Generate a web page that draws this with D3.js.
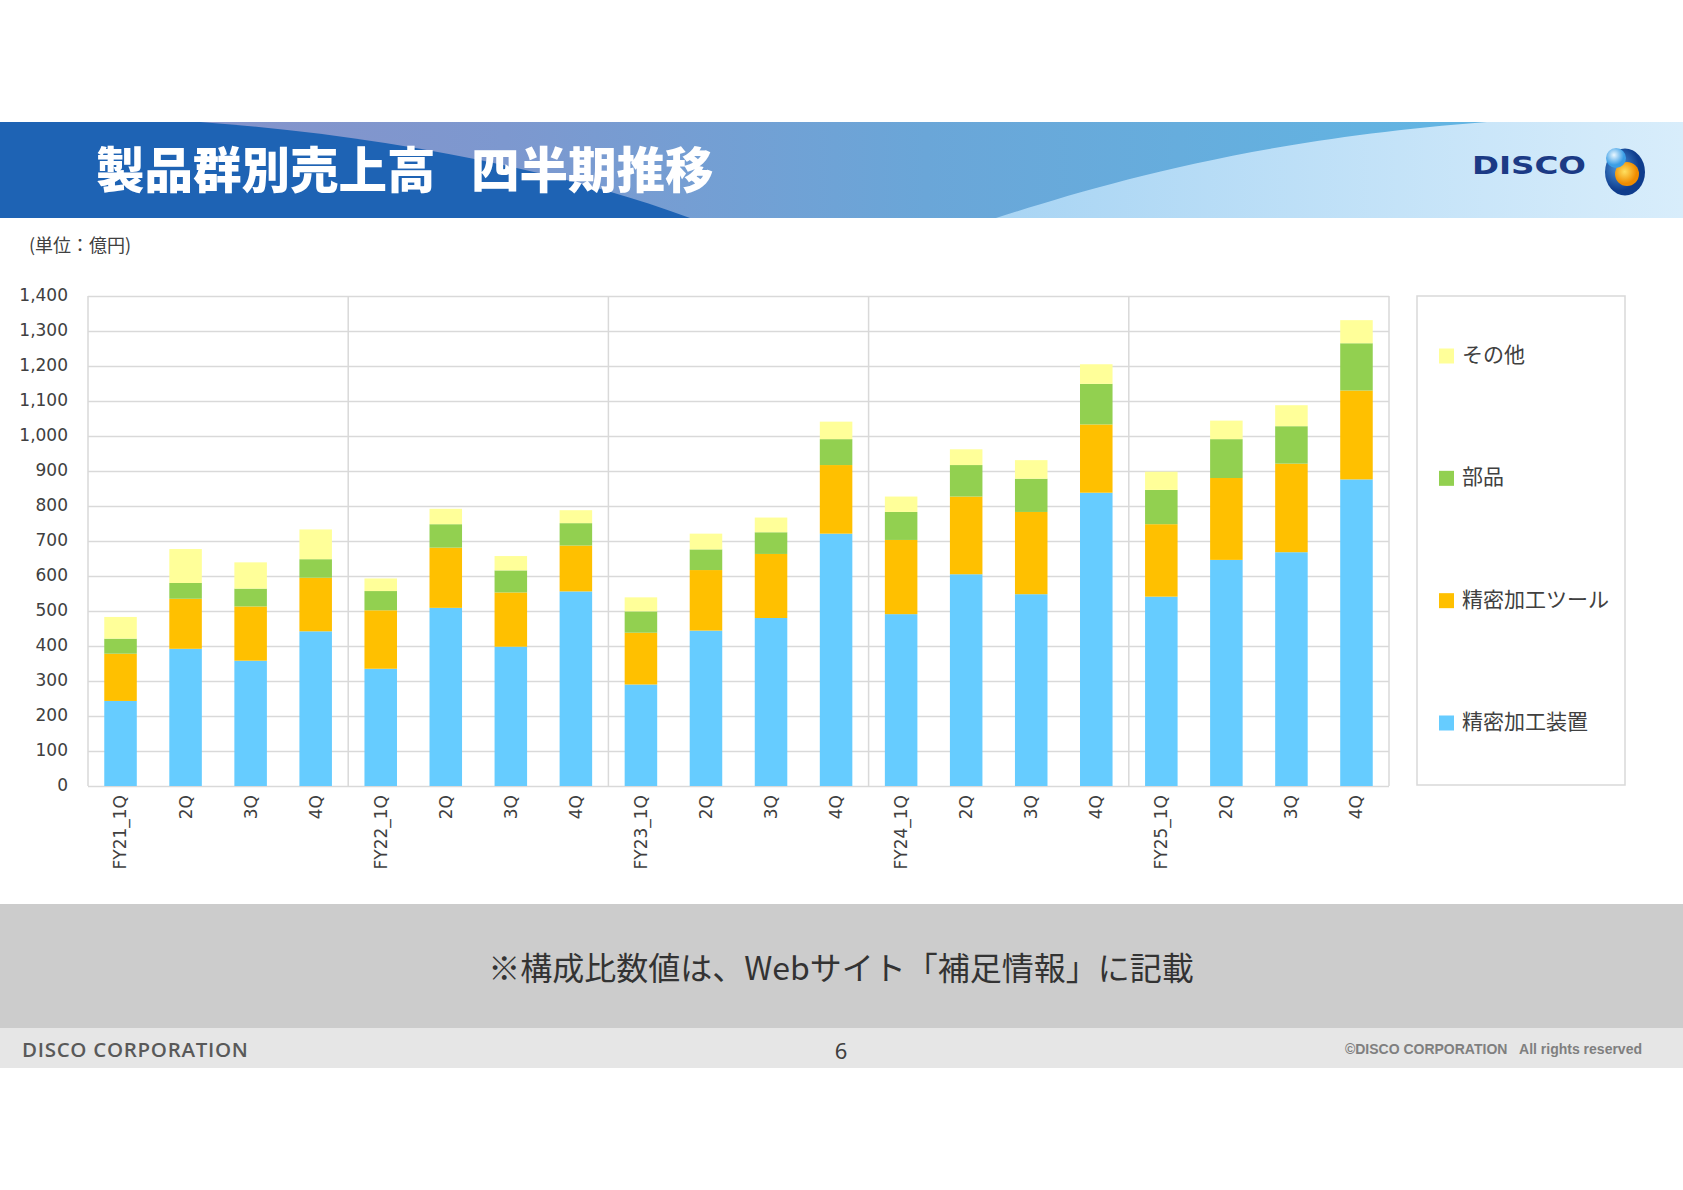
<!DOCTYPE html>
<html>
<head>
<meta charset="utf-8">
<script src="https://cdn.jsdelivr.net/npm/d3@7"></script>
<style>
  body { margin: 0; background: #fff; }
  svg { display: block; }
</style>
</head>
<body>
<svg id="chart"></svg>
<script>
var screenWidth = 1683
var screenHeight = 1190

// periods on the x axis (unique ids) and the labels shown under them
var periods = ["FY21_1Q","FY21_2Q","FY21_3Q","FY21_4Q",
               "FY22_1Q","FY22_2Q","FY22_3Q","FY22_4Q",
               "FY23_1Q","FY23_2Q","FY23_3Q","FY23_4Q",
               "FY24_1Q","FY24_2Q","FY24_3Q","FY24_4Q",
               "FY25_1Q","FY25_2Q","FY25_3Q","FY25_4Q"]
var tickLabels = ["FY21_1Q","2Q","3Q","4Q",
                  "FY22_1Q","2Q","3Q","4Q",
                  "FY23_1Q","2Q","3Q","4Q",
                  "FY24_1Q","2Q","3Q","4Q",
                  "FY25_1Q","2Q","3Q","4Q"]

// sales by product group, 億円
var equipment = [243,392,358,442, 335,509,398,556, 290,444,480,721, 491,605,548,838, 541,646,668,876]
var tools     = [135,143,155,153, 167,172,155,131, 148,173,183,196, 212,222,235,195, 207,234,253,254]
var parts     = [ 43, 45, 51, 53,  55, 67, 63, 64,  61, 59, 62, 74,  80, 90, 95,116,  98,111,107,135]
var other     = [ 62, 97, 75, 85,  36, 44, 41, 37,  40, 45, 42, 50,  44, 45, 53, 56,  52, 53, 60, 66]

var seriesKeys   = ["equipment","tools","parts","other"]
var seriesNames  = ["精密加工装置","精密加工ツール","部品","その他"]
var seriesColors = ["#66ccff","#ffc000","#92d050","#ffff99"]

var yTicks = d3.range(0, 1401, 100)

var svg = d3.select("#chart")
svg.attr("width", screenWidth)
svg.attr("height", screenHeight)

var textColor = "#404040"
var gridColor = "#d9d9d9"

svg.append("rect").attr("width", screenWidth).attr("height", screenHeight).attr("fill", "#fff")

// ---------- header band ----------
var defs = svg.append("defs")

function linGrad(id, stops){
  var g = defs.append("linearGradient").attr("id", id)
    .attr("gradientUnits", "userSpaceOnUse")
    .attr("x1", 0).attr("y1", 0).attr("x2", screenWidth).attr("y2", 0)
  stops.forEach(function(s){
    g.append("stop").attr("offset", s[0]).attr("stop-color", s[1])
  })
}
linGrad("lightGrad", [[0, "#9fcff1"], [0.6, "#a9d5f4"], [1, "#d8edfb"]])
linGrad("midGrad", [[0, "#8a90c8"], [0.3, "#7d98cf"], [0.55, "#6aa6d8"], [0.85, "#62b4e2"], [1, "#62b4e2"]])

var bandTop = 122, bandBottom = 218
svg.append("rect").attr("x", 0).attr("y", bandTop)
  .attr("width", screenWidth).attr("height", bandBottom - bandTop)
  .attr("fill", "url(#lightGrad)")

svg.append("path")
  .attr("d", "M0," + bandTop + " L1487," + bandTop +
             " C1250,140 1100,185 996," + bandBottom +
             " L0," + bandBottom + " Z")
  .attr("fill", "url(#midGrad)")

svg.append("path")
  .attr("d", "M0," + bandTop + " L200," + bandTop +
             " C380,135 560,170 690," + bandBottom +
             " L0," + bandBottom + " Z")
  .attr("fill", "#1e63b4")

function titlePart(x, str){
  svg.append("text")
    .attr("x", x)
    .attr("y", 167)
    .attr("dominant-baseline", "central")
    .attr("font-family", "'Noto Sans CJK JP', sans-serif")
    .attr("font-weight", 900)
    .attr("font-size", 48.5)
    .attr("fill", "#fff")
    .text(str)
}
titlePart(96, "製品群別売上高")
titlePart(471, "四半期推移")

// logo
svg.append("text")
  .attr("x", 1472)
  .attr("y", 165)
  .attr("dominant-baseline", "central")
  .attr("font-family", "'DejaVu Sans', sans-serif")
  .attr("font-weight", "bold")
  .attr("font-size", 25)
  .attr("textLength", 114)
  .attr("lengthAdjust", "spacingAndGlyphs")
  .attr("fill", "#1b3a85")
  .text("DISCO")

var rg1 = defs.append("radialGradient").attr("id", "logoOuter").attr("cx", "35%").attr("cy", "40%")
rg1.append("stop").attr("offset", 0).attr("stop-color", "#4f9be0")
rg1.append("stop").attr("offset", 1).attr("stop-color", "#0f3c8c")
var rg2 = defs.append("radialGradient").attr("id", "logoCore").attr("cx", "40%").attr("cy", "40%")
rg2.append("stop").attr("offset", 0).attr("stop-color", "#ffe060")
rg2.append("stop").attr("offset", 1).attr("stop-color", "#f08c00")
var rg3 = defs.append("radialGradient").attr("id", "logoBall").attr("cx", "40%").attr("cy", "35%")
rg3.append("stop").attr("offset", 0).attr("stop-color", "#eaf7ff")
rg3.append("stop").attr("offset", 1).attr("stop-color", "#3b9ee6")

svg.append("ellipse").attr("cx", 1625).attr("cy", 172).attr("rx", 20).attr("ry", 23.5).attr("fill", "url(#logoOuter)")
svg.append("circle").attr("cx", 1627).attr("cy", 174).attr("r", 12).attr("fill", "url(#logoCore)")
svg.append("circle").attr("cx", 1616).attr("cy", 158).attr("r", 10).attr("fill", "url(#logoBall)")

// unit label
svg.append("text")
  .attr("x", 29)
  .attr("y", 244)
  .attr("dominant-baseline", "central")
  .attr("font-family", "'Noto Sans CJK JP', sans-serif")
  .attr("font-size", 18)
  .attr("fill", textColor)
  .text("(単位：億円)")

// ---------- chart ----------
var plotLeft = 88, plotRight = 1389, plotTop = 296, plotBottom = 786

var x = d3.scaleBand()
  .domain(periods)
  .range([plotLeft, plotRight])
  .paddingInner(0.5)
  .paddingOuter(0.25)

var y = d3.scaleLinear()
  .domain([0, 1400])
  .range([plotBottom, plotTop])

// horizontal gridlines
svg.append("g")
  .attr("transform", "translate(" + plotLeft + ",0)")
  .call(d3.axisLeft(y).tickValues(yTicks).tickSize(-(plotRight - plotLeft)).tickFormat(""))
  .call(function(g){ g.select(".domain").remove() })
  .selectAll("line")
  .attr("stroke", gridColor)
  .attr("stroke-width", 1.5)

// vertical lines: plot edges and fiscal-year separators
var gap = (x.step() - x.bandwidth()) / 2
var vLines = [plotLeft, plotRight]
periods.forEach(function(p, i){
  if(i > 0 && i % 4 == 0) vLines.push(x(p) - gap)
})
svg.append("g").selectAll("line")
  .data(vLines)
  .join("line")
  .attr("x1", d => d).attr("x2", d => d)
  .attr("y1", plotTop).attr("y2", plotBottom)
  .attr("stroke", gridColor)
  .attr("stroke-width", 1.5)

// y axis labels
svg.append("g")
  .attr("transform", "translate(" + plotLeft + ",0)")
  .call(d3.axisLeft(y).tickValues(yTicks).tickSize(0).tickPadding(20).tickFormat(d3.format(",")))
  .call(function(g){ g.select(".domain").remove() })
  .selectAll("text")
  .attr("dy", "0.28em")
  .attr("font-family", "'DejaVu Sans', Verdana, sans-serif")
  .attr("font-size", 17)
  .attr("fill", textColor)

// stacked bars
var table = periods.map(function(p, i){
  return {period: p, equipment: equipment[i], tools: tools[i], parts: parts[i], other: other[i]}
})
var stacked = d3.stack().keys(seriesKeys)(table)

svg.append("g").selectAll("g")
  .data(stacked)
  .join("g")
  .attr("fill", (d, i) => seriesColors[i])
  .selectAll("rect")
  .data(d => d)
  .join("rect")
  .attr("x", d => x(d.data.period))
  .attr("width", x.bandwidth())
  .attr("y", d => y(d[1]))
  .attr("height", d => y(d[0]) - y(d[1]))

// x axis labels (rotated)
svg.append("g")
  .attr("transform", "translate(0," + plotBottom + ")")
  .call(d3.axisBottom(x).tickSize(0).tickPadding(0).tickFormat((d, i) => tickLabels[i]))
  .call(function(g){ g.select(".domain").remove() })
  .selectAll("text")
  .attr("transform", "rotate(-90)")
  .attr("x", -9)
  .attr("y", 0)
  .attr("dy", "0.35em")
  .attr("text-anchor", "end")
  .attr("font-family", "'DejaVu Sans', Verdana, sans-serif")
  .attr("font-size", 17)
  .attr("fill", textColor)

// legend
svg.append("rect")
  .attr("x", 1417).attr("y", plotTop)
  .attr("width", 208).attr("height", plotBottom - plotTop - 1)
  .attr("fill", "#fff")
  .attr("stroke", gridColor)
  .attr("stroke-width", 1.5)

var legendY = d3.scalePoint()
  .domain(seriesKeys.slice().reverse())
  .range([356, 723])

var legend = svg.append("g").selectAll("g")
  .data(seriesKeys)
  .join("g")
  .attr("transform", d => "translate(1439," + legendY(d) + ")")

legend.append("rect")
  .attr("x", 0).attr("y", -7.5)
  .attr("width", 15).attr("height", 15)
  .attr("fill", (d, i) => seriesColors[i])

legend.append("text")
  .attr("x", 23)
  .attr("y", -3)
  .attr("dominant-baseline", "central")
  .attr("font-family", "'Noto Sans CJK JP', sans-serif")
  .attr("font-size", 21)
  .attr("fill", textColor)
  .text((d, i) => seriesNames[i])

// ---------- note box and footer ----------
svg.append("rect").attr("x", 0).attr("y", 904).attr("width", screenWidth).attr("height", 124).attr("fill", "#cccccc")
svg.append("rect").attr("x", 0).attr("y", 1028).attr("width", screenWidth).attr("height", 40).attr("fill", "#e6e6e6")

svg.append("text")
  .attr("x", 841).attr("y", 966)
  .attr("text-anchor", "middle")
  .attr("dominant-baseline", "central")
  .attr("font-family", "'Noto Sans CJK JP', sans-serif")
  .attr("font-size", 32)
  .attr("fill", "#333")
  .text("※構成比数値は、Webサイト「補足情報」に記載")

svg.append("text")
  .attr("x", 22).attr("y", 1049)
  .attr("dominant-baseline", "central")
  .attr("font-family", "'Open Sans', sans-serif")
  .attr("font-weight", 600)
  .attr("font-size", 20.5)
  .attr("letter-spacing", 0.7)
  .attr("fill", "#595959")
  .text("DISCO CORPORATION")

svg.append("text")
  .attr("x", 841).attr("y", 1050)
  .attr("text-anchor", "middle")
  .attr("dominant-baseline", "central")
  .attr("font-family", "'Noto Sans', sans-serif")
  .attr("font-size", 22)
  .attr("fill", "#404040")
  .text("6")

svg.append("text")
  .attr("x", 1642).attr("y", 1049)
  .attr("text-anchor", "end")
  .attr("dominant-baseline", "central")
  .attr("font-family", "'Liberation Sans', Arial, sans-serif")
  .attr("font-weight", "bold")
  .attr("font-size", 14)
  .attr("fill", "#7f7f7f")
  .text("©DISCO CORPORATION\u00a0\u00a0\u00a0All rights reserved")
</script>
</body>
</html>
